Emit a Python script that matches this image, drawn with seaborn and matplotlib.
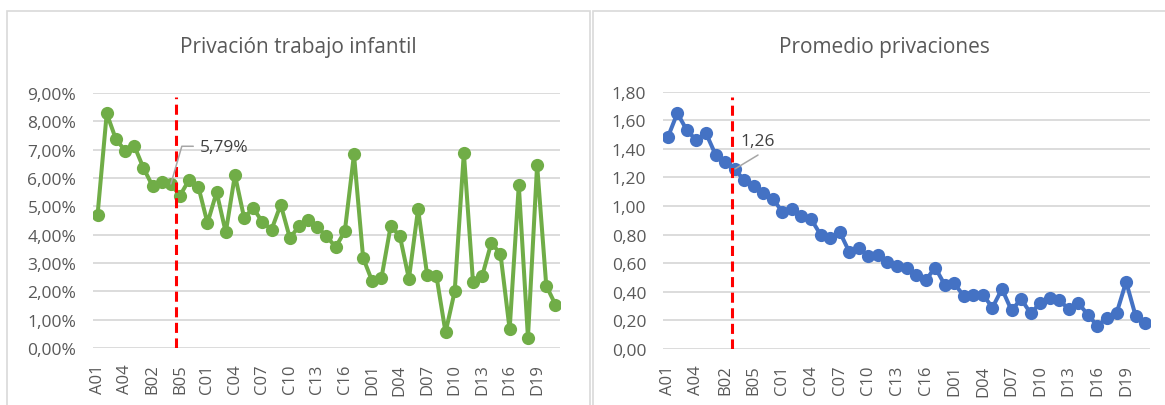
import matplotlib
matplotlib.use("Agg")
import matplotlib.pyplot as plt
import seaborn as sns
import numpy as np
import pandas as pd
from matplotlib.ticker import FuncFormatter, MultipleLocator
from matplotlib.patches import Rectangle

categories = ["A01", "A02", "A03", "A04", "A05",
              "B01", "B02", "B03", "B04", "B05", "B06", "B07",
              "C01", "C02", "C03", "C04", "C05", "C06", "C07", "C08", "C09",
              "C10", "C11", "C12", "C13", "C14", "C15", "C16", "C17", "C18",
              "D01", "D02", "D03", "D04", "D05", "D06", "D07", "D08", "D09",
              "D10", "D11", "D12", "D13", "D14", "D15", "D16", "D17", "D18",
              "D19", "D20", "D21"]

# percent values
trabajo_infantil = [4.71, 8.28, 7.37, 6.97, 7.14, 6.36, 5.72, 5.87, 5.79, 5.38,
                    5.94, 5.70, 4.41, 5.50, 4.08, 6.11, 4.60, 4.93, 4.45, 4.18,
                    5.06, 3.88, 4.30, 4.52, 4.26, 3.95, 3.56, 4.12, 6.83, 3.18,
                    2.35, 2.47, 4.29, 3.97, 2.44, 4.90, 2.56, 2.55, 0.55, 2.00,
                    6.89, 2.32, 2.54, 3.71, 3.32, 0.66, 5.75, 0.37, 6.46, 2.20,
                    1.53]

promedio_privaciones = [1.48, 1.65, 1.53, 1.46, 1.51, 1.36, 1.31, 1.26, 1.18, 1.14,
                        1.09, 1.05, 0.96, 0.98, 0.93, 0.91, 0.80, 0.78, 0.82, 0.68,
                        0.71, 0.65, 0.66, 0.61, 0.58, 0.57, 0.52, 0.48, 0.57, 0.45,
                        0.46, 0.37, 0.38, 0.38, 0.29, 0.42, 0.27, 0.35, 0.25, 0.32,
                        0.36, 0.34, 0.28, 0.32, 0.24, 0.16, 0.22, 0.25, 0.47, 0.23,
                        0.18]

title_left = "Privación trabajo infantil"
title_right = "Promedio privaciones"
label_left = "5,79%"
label_right = "1,26"

sns.set_theme(style="white")
plt.rcParams['font.family'] = ['Open Sans', 'DejaVu Sans']

W, H = 1165, 406
fig = plt.figure(figsize=(W / 100, H / 100), dpi=100)
fig.patch.set_facecolor("white")

# chart boxes
fig.patches.append(Rectangle((7 / W, -0.05), (590 - 7) / W, 1 - 12 / H + 0.05,
                             transform=fig.transFigure, fill=False,
                             edgecolor="#d9d9d9", lw=1.2))
fig.patches.append(Rectangle((593 / W, -0.05), (1175 - 593) / W, 1 - 12 / H + 0.05,
                             transform=fig.transFigure, fill=False,
                             edgecolor="#d9d9d9", lw=1.2))

ax1 = fig.add_axes([93 / W, (H - 349) / H, 467 / W, 255 / H])
ax2 = fig.add_axes([663 / W, (H - 350) / H, 487 / W, 257.3 / H])

df = pd.DataFrame({"cat": categories,
                   "pos": np.arange(len(categories)),
                   "ti": trabajo_infantil,
                   "pp": promedio_privaciones})

tick_color = "#595959"

for ax, col, color, ymax, step, fmt in [
        (ax1, "ti", "#70ad47", 9.0, 1.0, lambda v, p: f"{v:.2f}".replace(".", ",") + "%"),
        (ax2, "pp", "#4472c4", 1.8, 0.2, lambda v, p: f"{v:.2f}".replace(".", ","))]:
    sns.lineplot(data=df, x="pos", y=col, ax=ax, color=color, lw=2.9,
                 marker="o", markersize=9.5, markeredgewidth=0, zorder=3)
    ax.set_xlim(-0.5, len(categories) - 0.5)
    ax.set_ylim(0, ymax)
    ax.yaxis.set_major_locator(MultipleLocator(step))
    ax.yaxis.set_major_formatter(FuncFormatter(fmt))
    ax.set_xticks(df["pos"][::3])
    ax.set_xticklabels(df["cat"][::3], rotation=90)
    ax.yaxis.grid(True, color="#d9d9d9", lw=1.3)
    ax.set_axisbelow(True)
    for s in ax.spines.values():
        s.set_visible(False)
    ax.tick_params(axis="y", length=0, pad=12, labelsize=12.5, labelcolor=tick_color)
    ax.tick_params(axis="x", length=0, pad=11, labelsize=12, labelcolor=tick_color)
    ax.set_xlabel("")
    ax.set_ylabel("")
    ax.set_facecolor("none")

# red dashed reference lines
ax1.axvline(8.55, ymin=0, ymax=8.86 / 9.0, color="#ff0000", lw=2.2,
            linestyle=(0, (3.3, 1.8)), zorder=4)
ax2.axvline(6.77, ymin=0, ymax=0.979, color="#ff0000", lw=2.2,
            linestyle=(0, (3.3, 1.8)), zorder=4)

# data labels with leader lines
ax1.plot([8.0, 9.2, 10.45], [5.79, 7.12, 7.12], color="#a6a6a6", lw=1.1, zorder=5)
ax1.text(11.2, 7.08, label_left, ha="left", va="center", fontsize=12.5, color="#404040")
ax2.plot([7.04, 9.45], [1.26, 1.357], color="#a6a6a6", lw=1.1, zorder=5)
ax2.text(7.6, 1.457, label_right, ha="left", va="center", fontsize=12.5, color="#404040")

fig.text(298 / W, 1 - 47 / H, title_left, ha="center", va="center",
         fontsize=15, color=tick_color)
fig.text(884 / W, 1 - 47 / H, title_right, ha="center", va="center",
         fontsize=15, color=tick_color)

fig.savefig("out.png", dpi=100, facecolor="white")
